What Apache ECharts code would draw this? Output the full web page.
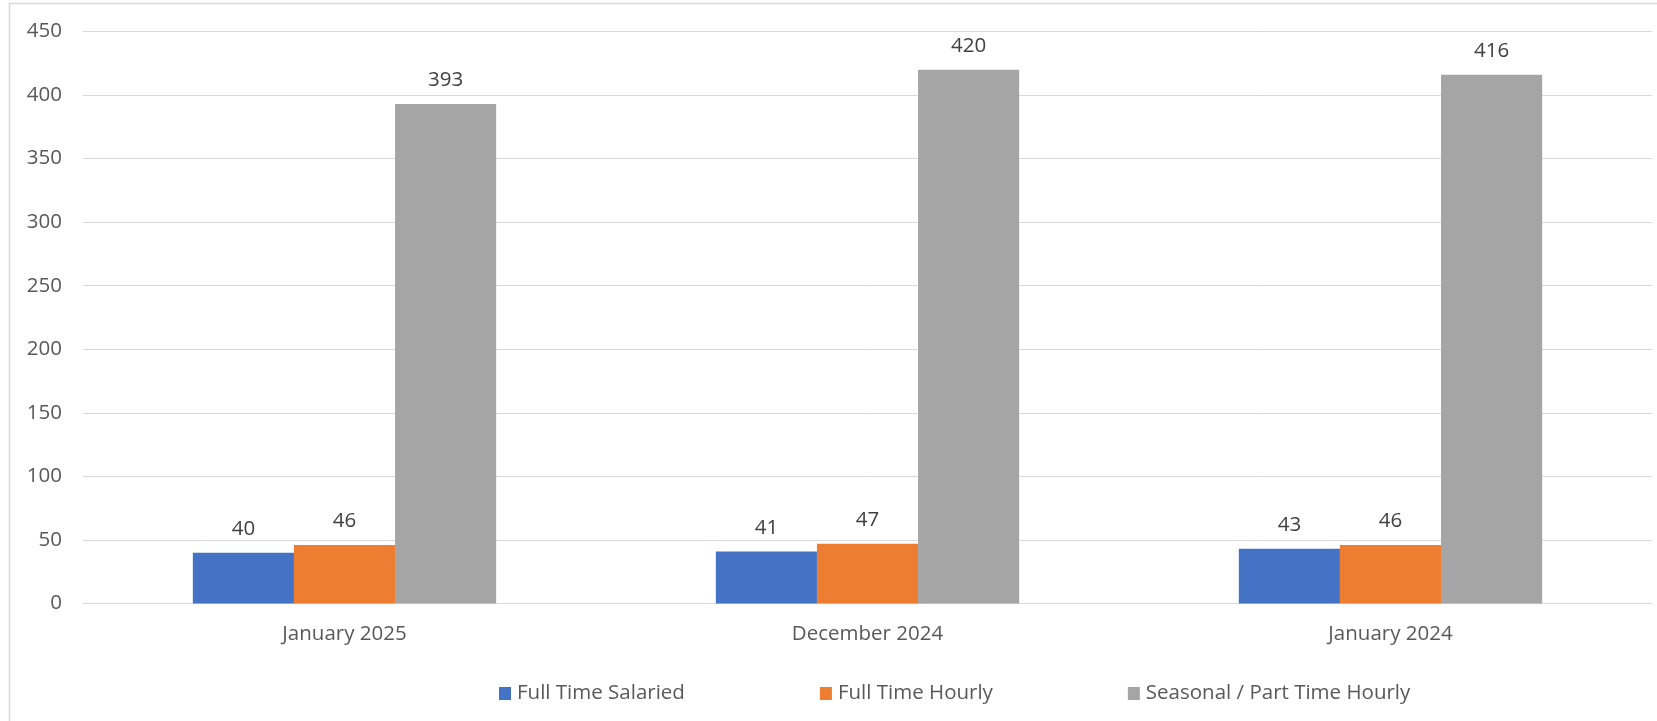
<!DOCTYPE html>
<html>
<head>
<meta charset="utf-8">
<script src="https://cdn.jsdelivr.net/npm/echarts@6/dist/echarts.min.js"></script>
<style>
html,body{margin:0;padding:0;background:#fff;}
#c{width:1657px;height:721px;}
</style>
</head>
<body>
<div id="c"></div>
<script>
const categories = ['January 2025', 'December 2024', 'January 2024'];
const seriesNames = ['Full Time Salaried', 'Full Time Hourly', 'Seasonal / Part Time Hourly'];
const fullTimeSalaried = [40, 41, 43];
const fullTimeHourly = [46, 47, 46];
const seasonalPartTime = [393, 420, 416];
const colors = ['#4472C4', '#ED7D31', '#A5A5A5'];
const seriesData = [fullTimeSalaried, fullTimeHourly, seasonalPartTime];

const font = '"Open Sans", "Noto Sans", sans-serif';
const fs = 20.5;
const chart = echarts.init(document.getElementById('c'), null, {renderer: 'canvas'});
chart.setOption({
  animation: false,
  textStyle: {fontFamily: font},
  graphic: [{
    type: 'rect',
    shape: {x: 9.5, y: 3.5, width: 1700, height: 800},
    style: {fill: 'none', stroke: '#D9D9D9', lineWidth: 1.5},
    silent: true, z: -1
  }],
  grid: {left: 83, right: 5, top: 31.5, bottom: 117.5, containLabel: false},
  legend: {
    left: 494, top: 678,
    itemWidth: 12, itemHeight: 13, itemGap: 135,
    icon: 'rect',
    textStyle: {fontFamily: font, fontSize: fs, color: '#595959', padding: [0, 0, 0, 1]},
    data: seriesNames
  },
  xAxis: {
    type: 'category',
    data: categories,
    axisLine: {show: true, lineStyle: {color: '#D9D9D9', width: 1}},
    axisTick: {show: false},
    axisLabel: {fontFamily: font, fontSize: fs, color: '#595959', margin: 20}
  },
  yAxis: {
    type: 'value',
    min: 0, max: 450, interval: 50,
    axisLine: {show: false},
    axisTick: {show: false},
    splitLine: {lineStyle: {color: '#D9D9D9', width: 1}},
    axisLabel: {fontFamily: font, fontSize: fs, color: '#595959', margin: 21}
  },
  series: seriesData.map((d, i) => ({
    name: seriesNames[i],
    type: 'bar',
    data: d,
    barGap: '0%',
    barCategoryGap: '42%',
    itemStyle: {color: colors[i]},
    label: {show: true, position: 'top', distance: 13, fontFamily: font, fontSize: fs, color: '#404040'}
  }))
});
</script>
</body>
</html>
